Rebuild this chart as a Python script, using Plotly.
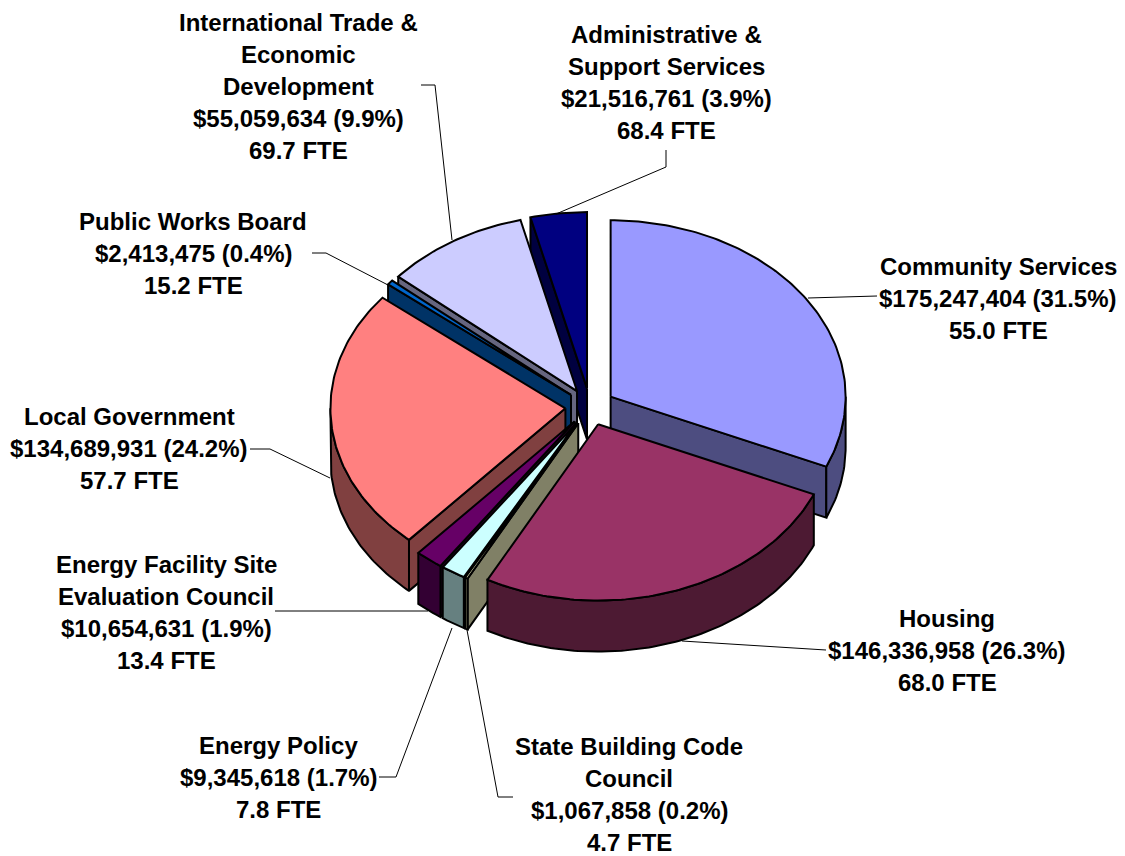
import numpy as np
import plotly.graph_objects as go

categories = ["Community Services", "Housing", "State Building Code Council", "Energy Policy",
              "Energy Facility Site Evaluation Council", "Local Government", "Public Works Board",
              "International Trade & Economic Development", "Administrative & Support Services"]
dollars = [175247404, 146336958, 1067858, 9345618, 10654631, 134689931, 2413475, 55059634, 21516761]
percent = ["31.5%", "26.3%", "0.2%", "1.7%", "1.9%", "24.2%", "0.4%", "9.9%", "3.9%"]
fte = [55.0, 68.0, 4.7, 7.8, 13.4, 57.7, 15.2, 69.7, 68.4]
top_colors = ["#9999FF", "#993366", "#FFFFCC", "#CCFFFF", "#660066", "#FF8080", "#0066CC", "#CCCCFF", "#000080"]
side_colors = ["#4D4D80", "#4D1A33", "#808066", "#668080", "#330033", "#804040", "#003366", "#666680", "#000040"]
label_lines = [["Community Services"], ["Housing"], ["State Building Code", "Council"], ["Energy Policy"],
               ["Energy Facility Site", "Evaluation Council"], ["Local Government"], ["Public Works Board"],
               ["International Trade &", "Economic", "Development"], ["Administrative &", "Support Services"]]

# layout of the drawing (pixels of the 1125x856 picture)
CX, CY, RX, RY, DEPTH, EXPLODE = 590.0, 406.8, 235.0, 176.3, 51.0, 0.105
PAGE_MARGIN = 8
paint_order = [8, 7, 6, 0, 5, 4, 3, 2, 1]
label_pos = [(998, 266), (947, 618), (629, 746), (278, 745), (166, 564), (129, 416), (193, 221), (298, 22), (666, 34)]
LINE_H = 32
FONT = 24
leaders = [
    [(808, 298), (877, 296)],
    [(682, 641), (815, 650), (826, 650)],
    [(467, 630), (498, 797), (513, 797)],
    [(452, 628), (396, 777), (379, 777)],
    [(275, 611), (428, 611)],
    [(250, 449), (270, 449), (330, 478)],
    [(312, 253), (326, 253), (388, 285)],
    [(421, 85), (435, 85), (452, 240)],
    [(666, 150), (666, 167), (556, 214)],
]

fractions = np.array(dollars, dtype=float) / sum(dollars)
ends = np.cumsum(fractions) * 2 * np.pi
starts = ends - fractions * 2 * np.pi


def arc(ax, ay, t0, t1):
    n = max(2, int(abs(t1 - t0) * 60))
    t = np.linspace(t0, t1, n)
    return ax + RX * np.sin(t), ay - RY * np.cos(t)


fig = go.Figure()


def poly(xs, ys, color):
    fig.add_trace(go.Scatter(x=np.append(xs, xs[0]), y=np.append(ys, ys[0]), mode="lines", fill="toself",
                             fillcolor=color, line=dict(color="black", width=2), hoverinfo="skip",
                             showlegend=False))


for i in paint_order:
    t0, t1 = starts[i], ends[i]
    mid = (t0 + t1) / 2
    ax = CX + EXPLODE * RX * np.sin(mid)
    ay = CY - EXPLODE * RY * np.cos(mid)
    # radial walls
    for t, front in ((t0, np.sin(t0) < 0), (t1, np.sin(t1) > 0)):
        if front:
            ex, ey = ax + RX * np.sin(t), ay - RY * np.cos(t)
            poly(np.array([ax, ex, ex, ax]), np.array([ay, ey, ey + DEPTH, ay + DEPTH]), side_colors[i])
    # outer rim
    a0, a1 = max(t0, np.pi / 2), min(t1, 3 * np.pi / 2)
    if a1 > a0:
        x, y = arc(ax, ay, a0, a1)
        poly(np.r_[x, x[::-1]], np.r_[y, y[::-1] + DEPTH], side_colors[i])
    # top face
    x, y = arc(ax, ay, t0, t1)
    poly(np.r_[ax, x], np.r_[ay, y], top_colors[i])

for pts in leaders:
    fig.add_trace(go.Scatter(x=[p[0] for p in pts], y=[p[1] for p in pts], mode="lines",
                             line=dict(color="black", width=1), hoverinfo="skip", showlegend=False))

annotations = []
for i, name in enumerate(categories):
    lines = label_lines[i] + [f"${dollars[i]:,} ({percent[i]})", f"{fte[i]:.1f} FTE"]
    lx, ly = label_pos[i]
    for k, text in enumerate(lines):
        annotations.append(dict(x=lx, y=ly + k * LINE_H, text=f"<b>{text}</b>", showarrow=False,
                                xanchor="center", yanchor="middle", xref="x", yref="y",
                                font=dict(family="Liberation Sans", size=FONT, color="black")))

fig.update_layout(
    width=1125 - PAGE_MARGIN, height=856 - PAGE_MARGIN, autosize=False, margin=dict(l=0, r=0, t=0, b=0),
    paper_bgcolor="white", plot_bgcolor="white", showlegend=False, annotations=annotations,
    xaxis=dict(range=[PAGE_MARGIN, 1125], visible=False, fixedrange=True),
    yaxis=dict(range=[856, PAGE_MARGIN], visible=False, fixedrange=True),
)
fig.write_html("out.html", config={"displayModeBar": False})
